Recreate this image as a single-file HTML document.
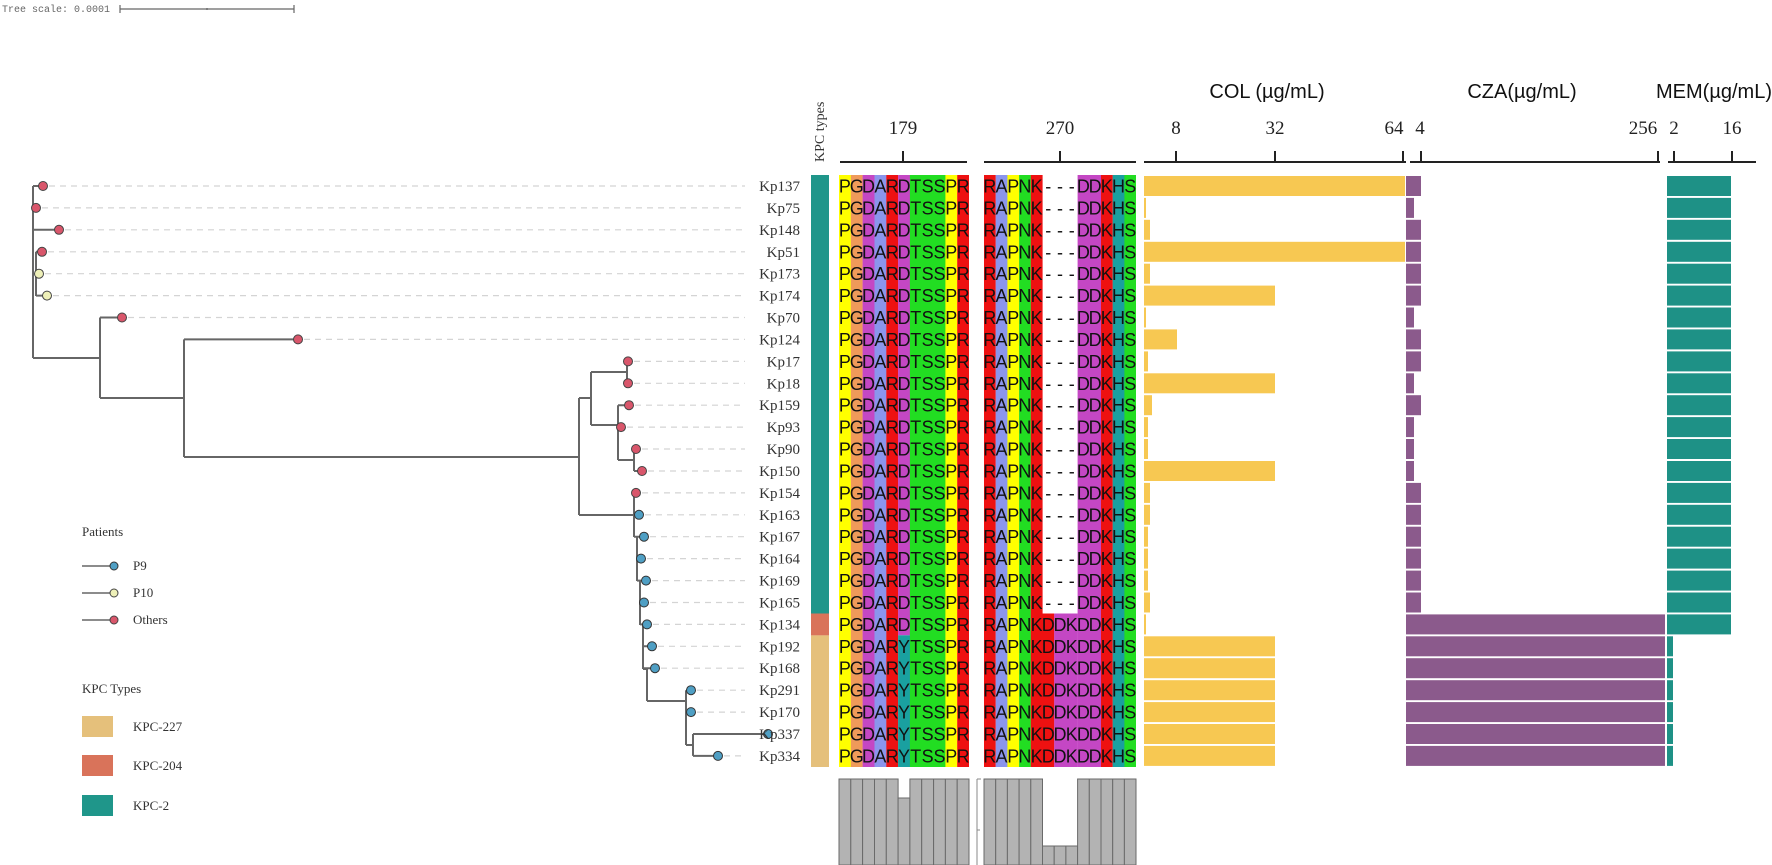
<!DOCTYPE html>
<html><head><meta charset="utf-8"><style>
html,body{margin:0;padding:0;background:#fff}
svg{display:block}
.lb{font-family:"Liberation Serif",serif;font-size:15px;fill:#333;text-anchor:end}
.aa{font-family:"Liberation Sans",sans-serif;font-size:18px;fill:#111;text-anchor:middle}
.tk{font-family:"Liberation Serif",serif;font-size:19px;fill:#222;text-anchor:middle}
.tt{font-family:"Liberation Sans",sans-serif;font-size:20px;fill:#111;text-anchor:middle}
.lg{font-family:"Liberation Serif",serif;font-size:13px;fill:#333}
.ld{stroke:#d4d4d4;stroke-width:1.2;stroke-dasharray:6 5}
.tr{stroke:#666;stroke-width:2;fill:none}
.r{fill:#d9566b;stroke:#444;stroke-width:1}
.b{fill:#4f9fc4;stroke:#333;stroke-width:1}
.y{fill:#eef0b8;stroke:#444;stroke-width:1}
</style></head><body>
<svg width="1772" height="865" viewBox="0 0 1772 865" xmlns="http://www.w3.org/2000/svg">
<text x="2" y="12" style="font-family:'Liberation Mono',monospace;font-size:10px;fill:#666">Tree scale: 0.0001</text>
<g stroke="#666" stroke-width="1.2"><line x1="120" y1="9" x2="294" y2="9"/><line x1="120" y1="5" x2="120" y2="13"/><line x1="294" y1="5" x2="294" y2="13"/><line x1="207" y1="8" x2="207" y2="10"/></g>

<g class="ld">
<line x1="49" y1="186" x2="745" y2="186"/><line x1="42" y1="207.9" x2="745" y2="207.9"/><line x1="65" y1="229.8" x2="745" y2="229.8"/><line x1="48" y1="251.8" x2="745" y2="251.8"/><line x1="45" y1="273.7" x2="745" y2="273.7"/><line x1="53" y1="295.6" x2="745" y2="295.6"/><line x1="128" y1="317.5" x2="745" y2="317.5"/><line x1="304" y1="339.4" x2="745" y2="339.4"/><line x1="634" y1="361.4" x2="745" y2="361.4"/><line x1="634" y1="383.3" x2="745" y2="383.3"/><line x1="635" y1="405.2" x2="745" y2="405.2"/><line x1="627" y1="427.1" x2="745" y2="427.1"/><line x1="642" y1="449" x2="745" y2="449"/><line x1="648" y1="471" x2="745" y2="471"/><line x1="642" y1="492.9" x2="745" y2="492.9"/><line x1="645" y1="514.8" x2="745" y2="514.8"/><line x1="650" y1="536.7" x2="745" y2="536.7"/><line x1="647" y1="558.6" x2="745" y2="558.6"/><line x1="652" y1="580.6" x2="745" y2="580.6"/><line x1="650" y1="602.5" x2="745" y2="602.5"/><line x1="653" y1="624.4" x2="745" y2="624.4"/><line x1="658" y1="646.3" x2="745" y2="646.3"/><line x1="661" y1="668.2" x2="745" y2="668.2"/><line x1="697" y1="690.2" x2="745" y2="690.2"/><line x1="697" y1="712.1" x2="745" y2="712.1"/><line x1="724" y1="755.9" x2="745" y2="755.9"/>
</g>

<path class="tr" d="M33 186V358 M33 186H43 M33 207.9H36 M33 229.8H59 M36 251.8V296 M36 251.8H42 M36 273.7H39 M36 295.6H47
M33 358H100 M100 317.5V398 M100 317.5H122 M100 398H184 M184 339.4V457 M184 339.4H298 M184 457H579
M579 398V515 M579 398H591 M591 372V425 M591 372H627 M627 361.4V383.3 M627 361.4H628 M627 383.3H628
M591 425H618 M618 405.2V460 M618 405.2H629 M618 427.1H621 M618 460H634 M634 449V471 M634 449H636 M634 471H642
M579 515H634 M634 492.9V537 M634 492.9H636 M634 514.8H639 M634 536.7H644 M637 537V581 M637 558.6H641 M637 580.6H646
M640 581V625 M640 602.5H644 M640 624.4H647 M643 625V669 M643 646.3H652 M643 668.2H655 M647 669V701 M643 669H647
M647 701H686 M686 690.2V745 M686 690.2H691 M686 712.1H691 M686 745H693 M693 734V755.9 M693 734H768 M693 755.9H718"/>
<g>
<circle class="r" cx="43" cy="186" r="4.5"/><circle class="r" cx="36" cy="207.9" r="4.5"/><circle class="r" cx="59" cy="229.8" r="4.5"/><circle class="r" cx="42" cy="251.8" r="4.5"/><circle class="y" cx="39" cy="273.7" r="4.5"/><circle class="y" cx="47" cy="295.6" r="4.5"/><circle class="r" cx="122" cy="317.5" r="4.5"/><circle class="r" cx="298" cy="339.4" r="4.5"/><circle class="r" cx="628" cy="361.4" r="4.5"/><circle class="r" cx="628" cy="383.3" r="4.5"/><circle class="r" cx="629" cy="405.2" r="4.5"/><circle class="r" cx="621" cy="427.1" r="4.5"/><circle class="r" cx="636" cy="449" r="4.5"/><circle class="r" cx="642" cy="471" r="4.5"/><circle class="r" cx="636" cy="492.9" r="4.5"/><circle class="b" cx="639" cy="514.8" r="4.5"/><circle class="b" cx="644" cy="536.7" r="4.5"/><circle class="b" cx="641" cy="558.6" r="4.5"/><circle class="b" cx="646" cy="580.6" r="4.5"/><circle class="b" cx="644" cy="602.5" r="4.5"/><circle class="b" cx="647" cy="624.4" r="4.5"/><circle class="b" cx="652" cy="646.3" r="4.5"/><circle class="b" cx="655" cy="668.2" r="4.5"/><circle class="b" cx="691" cy="690.2" r="4.5"/><circle class="b" cx="691" cy="712.1" r="4.5"/><circle class="b" cx="768" cy="734" r="4.5"/><circle class="b" cx="718" cy="755.9" r="4.5"/>
</g>

<text class="lg" x="82" y="536">Patients</text>
<line x1="82" y1="566" x2="112" y2="566" stroke="#666" stroke-width="1.5"/><circle class="b" cx="114" cy="566" r="4"/><text class="lg" x="133" y="570">P9</text>
<line x1="82" y1="593" x2="112" y2="593" stroke="#666" stroke-width="1.5"/><circle class="y" cx="114" cy="593" r="4"/><text class="lg" x="133" y="597">P10</text>
<line x1="82" y1="620" x2="112" y2="620" stroke="#666" stroke-width="1.5"/><circle class="r" cx="114" cy="620" r="4"/><text class="lg" x="133" y="624">Others</text>
<text class="lg" x="82" y="693">KPC Types</text>
<rect x="82" y="716" width="31" height="21" fill="#e5c07b"/><text class="lg" x="133" y="731">KPC-227</text>
<rect x="82" y="755" width="31" height="21" fill="#d9735a"/><text class="lg" x="133" y="770">KPC-204</text>
<rect x="82" y="795" width="31" height="21" fill="#1f968a"/><text class="lg" x="133" y="810">KPC-2</text>

<text transform="translate(824,162) rotate(-90)" style="font-family:'Liberation Serif',serif;font-size:14px;fill:#333">KPC types</text>
<rect x="811" y="175" width="18" height="438.5" fill="#1f968a"/>
<rect x="811" y="613.5" width="18" height="21.9" fill="#d9735a"/>
<rect x="811" y="635.4" width="18" height="131.6" fill="#e5c07b"/>

<g>
<rect x="839" y="175" width="11.9" height="592" fill="#ffff00"/>
<rect x="850.8" y="175" width="11.9" height="592" fill="#ef9a5a"/>
<rect x="862.6" y="175" width="12" height="592" fill="#c447c4"/>
<rect x="874.5" y="175" width="11.9" height="592" fill="#8b95ec"/>
<rect x="886.3" y="175" width="11.9" height="592" fill="#ee1111"/>
<rect x="898.1" y="175" width="11.9" height="460.3" fill="#c447c4"/>
<rect x="898.1" y="635.3" width="11.9" height="131.7" fill="#1aa0a0"/>
<rect x="909.9" y="175" width="35.6" height="592" fill="#22dd22"/>
<rect x="945.4" y="175" width="11.9" height="592" fill="#ffff00"/>
<rect x="957.2" y="175" width="11.8" height="592" fill="#ee1111"/>
</g>
<g>
<rect x="984" y="175" width="11.8" height="592" fill="#ee1111"/>
<rect x="995.7" y="175" width="11.8" height="592" fill="#8b95ec"/>
<rect x="1007.4" y="175" width="11.8" height="592" fill="#ffff00"/>
<rect x="1019.1" y="175" width="11.8" height="592" fill="#22dd22"/>
<rect x="1030.8" y="175" width="11.8" height="592" fill="#ee1111"/>
<rect x="1042.5" y="613.5" width="11.8" height="153.5" fill="#ee1111"/>
<rect x="1054.2" y="613.5" width="23.5" height="153.5" fill="#c447c4"/>
<rect x="1077.6" y="175" width="23.5" height="592" fill="#c447c4"/>
<rect x="1101" y="175" width="11.8" height="592" fill="#ee1111"/>
<rect x="1112.7" y="175" width="11.8" height="592" fill="#1aa0a0"/>
<rect x="1124.4" y="175" width="11.6" height="592" fill="#22dd22"/>
</g>

<g stroke="#222" stroke-width="2">
<line x1="840" y1="162" x2="967" y2="162"/><line x1="903" y1="151" x2="903" y2="162"/>
<line x1="984" y1="162" x2="1136" y2="162"/><line x1="1060" y1="151" x2="1060" y2="162"/>
<line x1="1144" y1="162" x2="1406" y2="162"/><line x1="1176" y1="151" x2="1176" y2="162"/><line x1="1275" y1="151" x2="1275" y2="162"/><line x1="1403" y1="151" x2="1403" y2="162"/>
<line x1="1410" y1="162" x2="1660" y2="162"/><line x1="1421" y1="151" x2="1421" y2="162"/><line x1="1658" y1="151" x2="1658" y2="162"/>
<line x1="1668" y1="162" x2="1756" y2="162"/><line x1="1674" y1="151" x2="1674" y2="162"/><line x1="1732" y1="151" x2="1732" y2="162"/>
</g>
<text class="tk" x="903" y="134">179</text>
<text class="tk" x="1060" y="134">270</text>
<text class="tk" x="1176" y="134">8</text>
<text class="tk" x="1275" y="134">32</text>
<text class="tk" x="1394" y="134">64</text>
<text class="tk" x="1420" y="134">4</text>
<text class="tk" x="1643" y="134">256</text>
<text class="tk" x="1674" y="134">2</text>
<text class="tk" x="1732" y="134">16</text>
<text class="tt" x="1267" y="98">COL (µg/mL)</text>
<text class="tt" x="1522" y="98">CZA(µg/mL)</text>
<text class="tt" x="1714" y="98">MEM(µg/mL)</text>

<g id="rows">
<g transform="translate(0,186)"><text class="lb" x="800" y="5">Kp137</text><text class="aa" x="844.9 856.7 868.5 880.4 892.2 904 915.8 927.6 939.5 951.3 963.1" y="6.5">PGDARDTSSPR</text><text class="aa" x="989.8 1001.5 1013.2 1024.9 1036.6 1048.3 1060 1071.7 1083.4 1095.1 1106.8 1118.5 1130.2" y="6.5">RAPNK---DDKHS</text><rect x="1144" y="-10" width="261" height="20" fill="#f7c852"/><rect x="1406" y="-10" width="15" height="20" fill="#8b5a8c"/><rect x="1667" y="-10" width="64" height="20" fill="#1e9186"/></g>
<g transform="translate(0,207.9)"><text class="lb" x="800" y="5">Kp75</text><text class="aa" x="844.9 856.7 868.5 880.4 892.2 904 915.8 927.6 939.5 951.3 963.1" y="6.5">PGDARDTSSPR</text><text class="aa" x="989.8 1001.5 1013.2 1024.9 1036.6 1048.3 1060 1071.7 1083.4 1095.1 1106.8 1118.5 1130.2" y="6.5">RAPNK---DDKHS</text><rect x="1144" y="-10" width="2" height="20" fill="#f7c852"/><rect x="1406" y="-10" width="8" height="20" fill="#8b5a8c"/><rect x="1667" y="-10" width="64" height="20" fill="#1e9186"/></g>
<g transform="translate(0,229.8)"><text class="lb" x="800" y="5">Kp148</text><text class="aa" x="844.9 856.7 868.5 880.4 892.2 904 915.8 927.6 939.5 951.3 963.1" y="6.5">PGDARDTSSPR</text><text class="aa" x="989.8 1001.5 1013.2 1024.9 1036.6 1048.3 1060 1071.7 1083.4 1095.1 1106.8 1118.5 1130.2" y="6.5">RAPNK---DDKHS</text><rect x="1144" y="-10" width="6" height="20" fill="#f7c852"/><rect x="1406" y="-10" width="15" height="20" fill="#8b5a8c"/><rect x="1667" y="-10" width="64" height="20" fill="#1e9186"/></g>
<g transform="translate(0,251.8)"><text class="lb" x="800" y="5">Kp51</text><text class="aa" x="844.9 856.7 868.5 880.4 892.2 904 915.8 927.6 939.5 951.3 963.1" y="6.5">PGDARDTSSPR</text><text class="aa" x="989.8 1001.5 1013.2 1024.9 1036.6 1048.3 1060 1071.7 1083.4 1095.1 1106.8 1118.5 1130.2" y="6.5">RAPNK---DDKHS</text><rect x="1144" y="-10" width="261" height="20" fill="#f7c852"/><rect x="1406" y="-10" width="15" height="20" fill="#8b5a8c"/><rect x="1667" y="-10" width="64" height="20" fill="#1e9186"/></g>
<g transform="translate(0,273.7)"><text class="lb" x="800" y="5">Kp173</text><text class="aa" x="844.9 856.7 868.5 880.4 892.2 904 915.8 927.6 939.5 951.3 963.1" y="6.5">PGDARDTSSPR</text><text class="aa" x="989.8 1001.5 1013.2 1024.9 1036.6 1048.3 1060 1071.7 1083.4 1095.1 1106.8 1118.5 1130.2" y="6.5">RAPNK---DDKHS</text><rect x="1144" y="-10" width="6" height="20" fill="#f7c852"/><rect x="1406" y="-10" width="15" height="20" fill="#8b5a8c"/><rect x="1667" y="-10" width="64" height="20" fill="#1e9186"/></g>
<g transform="translate(0,295.6)"><text class="lb" x="800" y="5">Kp174</text><text class="aa" x="844.9 856.7 868.5 880.4 892.2 904 915.8 927.6 939.5 951.3 963.1" y="6.5">PGDARDTSSPR</text><text class="aa" x="989.8 1001.5 1013.2 1024.9 1036.6 1048.3 1060 1071.7 1083.4 1095.1 1106.8 1118.5 1130.2" y="6.5">RAPNK---DDKHS</text><rect x="1144" y="-10" width="131" height="20" fill="#f7c852"/><rect x="1406" y="-10" width="15" height="20" fill="#8b5a8c"/><rect x="1667" y="-10" width="64" height="20" fill="#1e9186"/></g>
<g transform="translate(0,317.5)"><text class="lb" x="800" y="5">Kp70</text><text class="aa" x="844.9 856.7 868.5 880.4 892.2 904 915.8 927.6 939.5 951.3 963.1" y="6.5">PGDARDTSSPR</text><text class="aa" x="989.8 1001.5 1013.2 1024.9 1036.6 1048.3 1060 1071.7 1083.4 1095.1 1106.8 1118.5 1130.2" y="6.5">RAPNK---DDKHS</text><rect x="1144" y="-10" width="2" height="20" fill="#f7c852"/><rect x="1406" y="-10" width="8" height="20" fill="#8b5a8c"/><rect x="1667" y="-10" width="64" height="20" fill="#1e9186"/></g>
<g transform="translate(0,339.4)"><text class="lb" x="800" y="5">Kp124</text><text class="aa" x="844.9 856.7 868.5 880.4 892.2 904 915.8 927.6 939.5 951.3 963.1" y="6.5">PGDARDTSSPR</text><text class="aa" x="989.8 1001.5 1013.2 1024.9 1036.6 1048.3 1060 1071.7 1083.4 1095.1 1106.8 1118.5 1130.2" y="6.5">RAPNK---DDKHS</text><rect x="1144" y="-10" width="33" height="20" fill="#f7c852"/><rect x="1406" y="-10" width="15" height="20" fill="#8b5a8c"/><rect x="1667" y="-10" width="64" height="20" fill="#1e9186"/></g>
<g transform="translate(0,361.4)"><text class="lb" x="800" y="5">Kp17</text><text class="aa" x="844.9 856.7 868.5 880.4 892.2 904 915.8 927.6 939.5 951.3 963.1" y="6.5">PGDARDTSSPR</text><text class="aa" x="989.8 1001.5 1013.2 1024.9 1036.6 1048.3 1060 1071.7 1083.4 1095.1 1106.8 1118.5 1130.2" y="6.5">RAPNK---DDKHS</text><rect x="1144" y="-10" width="4" height="20" fill="#f7c852"/><rect x="1406" y="-10" width="15" height="20" fill="#8b5a8c"/><rect x="1667" y="-10" width="64" height="20" fill="#1e9186"/></g>
<g transform="translate(0,383.3)"><text class="lb" x="800" y="5">Kp18</text><text class="aa" x="844.9 856.7 868.5 880.4 892.2 904 915.8 927.6 939.5 951.3 963.1" y="6.5">PGDARDTSSPR</text><text class="aa" x="989.8 1001.5 1013.2 1024.9 1036.6 1048.3 1060 1071.7 1083.4 1095.1 1106.8 1118.5 1130.2" y="6.5">RAPNK---DDKHS</text><rect x="1144" y="-10" width="131" height="20" fill="#f7c852"/><rect x="1406" y="-10" width="8" height="20" fill="#8b5a8c"/><rect x="1667" y="-10" width="64" height="20" fill="#1e9186"/></g>
<g transform="translate(0,405.2)"><text class="lb" x="800" y="5">Kp159</text><text class="aa" x="844.9 856.7 868.5 880.4 892.2 904 915.8 927.6 939.5 951.3 963.1" y="6.5">PGDARDTSSPR</text><text class="aa" x="989.8 1001.5 1013.2 1024.9 1036.6 1048.3 1060 1071.7 1083.4 1095.1 1106.8 1118.5 1130.2" y="6.5">RAPNK---DDKHS</text><rect x="1144" y="-10" width="8" height="20" fill="#f7c852"/><rect x="1406" y="-10" width="15" height="20" fill="#8b5a8c"/><rect x="1667" y="-10" width="64" height="20" fill="#1e9186"/></g>
<g transform="translate(0,427.1)"><text class="lb" x="800" y="5">Kp93</text><text class="aa" x="844.9 856.7 868.5 880.4 892.2 904 915.8 927.6 939.5 951.3 963.1" y="6.5">PGDARDTSSPR</text><text class="aa" x="989.8 1001.5 1013.2 1024.9 1036.6 1048.3 1060 1071.7 1083.4 1095.1 1106.8 1118.5 1130.2" y="6.5">RAPNK---DDKHS</text><rect x="1144" y="-10" width="4" height="20" fill="#f7c852"/><rect x="1406" y="-10" width="8" height="20" fill="#8b5a8c"/><rect x="1667" y="-10" width="64" height="20" fill="#1e9186"/></g>
<g transform="translate(0,449)"><text class="lb" x="800" y="5">Kp90</text><text class="aa" x="844.9 856.7 868.5 880.4 892.2 904 915.8 927.6 939.5 951.3 963.1" y="6.5">PGDARDTSSPR</text><text class="aa" x="989.8 1001.5 1013.2 1024.9 1036.6 1048.3 1060 1071.7 1083.4 1095.1 1106.8 1118.5 1130.2" y="6.5">RAPNK---DDKHS</text><rect x="1144" y="-10" width="4" height="20" fill="#f7c852"/><rect x="1406" y="-10" width="8" height="20" fill="#8b5a8c"/><rect x="1667" y="-10" width="64" height="20" fill="#1e9186"/></g>
<g transform="translate(0,471)"><text class="lb" x="800" y="5">Kp150</text><text class="aa" x="844.9 856.7 868.5 880.4 892.2 904 915.8 927.6 939.5 951.3 963.1" y="6.5">PGDARDTSSPR</text><text class="aa" x="989.8 1001.5 1013.2 1024.9 1036.6 1048.3 1060 1071.7 1083.4 1095.1 1106.8 1118.5 1130.2" y="6.5">RAPNK---DDKHS</text><rect x="1144" y="-10" width="131" height="20" fill="#f7c852"/><rect x="1406" y="-10" width="8" height="20" fill="#8b5a8c"/><rect x="1667" y="-10" width="64" height="20" fill="#1e9186"/></g>
<g transform="translate(0,492.9)"><text class="lb" x="800" y="5">Kp154</text><text class="aa" x="844.9 856.7 868.5 880.4 892.2 904 915.8 927.6 939.5 951.3 963.1" y="6.5">PGDARDTSSPR</text><text class="aa" x="989.8 1001.5 1013.2 1024.9 1036.6 1048.3 1060 1071.7 1083.4 1095.1 1106.8 1118.5 1130.2" y="6.5">RAPNK---DDKHS</text><rect x="1144" y="-10" width="6" height="20" fill="#f7c852"/><rect x="1406" y="-10" width="15" height="20" fill="#8b5a8c"/><rect x="1667" y="-10" width="64" height="20" fill="#1e9186"/></g>
<g transform="translate(0,514.8)"><text class="lb" x="800" y="5">Kp163</text><text class="aa" x="844.9 856.7 868.5 880.4 892.2 904 915.8 927.6 939.5 951.3 963.1" y="6.5">PGDARDTSSPR</text><text class="aa" x="989.8 1001.5 1013.2 1024.9 1036.6 1048.3 1060 1071.7 1083.4 1095.1 1106.8 1118.5 1130.2" y="6.5">RAPNK---DDKHS</text><rect x="1144" y="-10" width="6" height="20" fill="#f7c852"/><rect x="1406" y="-10" width="15" height="20" fill="#8b5a8c"/><rect x="1667" y="-10" width="64" height="20" fill="#1e9186"/></g>
<g transform="translate(0,536.7)"><text class="lb" x="800" y="5">Kp167</text><text class="aa" x="844.9 856.7 868.5 880.4 892.2 904 915.8 927.6 939.5 951.3 963.1" y="6.5">PGDARDTSSPR</text><text class="aa" x="989.8 1001.5 1013.2 1024.9 1036.6 1048.3 1060 1071.7 1083.4 1095.1 1106.8 1118.5 1130.2" y="6.5">RAPNK---DDKHS</text><rect x="1144" y="-10" width="4" height="20" fill="#f7c852"/><rect x="1406" y="-10" width="15" height="20" fill="#8b5a8c"/><rect x="1667" y="-10" width="64" height="20" fill="#1e9186"/></g>
<g transform="translate(0,558.6)"><text class="lb" x="800" y="5">Kp164</text><text class="aa" x="844.9 856.7 868.5 880.4 892.2 904 915.8 927.6 939.5 951.3 963.1" y="6.5">PGDARDTSSPR</text><text class="aa" x="989.8 1001.5 1013.2 1024.9 1036.6 1048.3 1060 1071.7 1083.4 1095.1 1106.8 1118.5 1130.2" y="6.5">RAPNK---DDKHS</text><rect x="1144" y="-10" width="4" height="20" fill="#f7c852"/><rect x="1406" y="-10" width="15" height="20" fill="#8b5a8c"/><rect x="1667" y="-10" width="64" height="20" fill="#1e9186"/></g>
<g transform="translate(0,580.6)"><text class="lb" x="800" y="5">Kp169</text><text class="aa" x="844.9 856.7 868.5 880.4 892.2 904 915.8 927.6 939.5 951.3 963.1" y="6.5">PGDARDTSSPR</text><text class="aa" x="989.8 1001.5 1013.2 1024.9 1036.6 1048.3 1060 1071.7 1083.4 1095.1 1106.8 1118.5 1130.2" y="6.5">RAPNK---DDKHS</text><rect x="1144" y="-10" width="4" height="20" fill="#f7c852"/><rect x="1406" y="-10" width="15" height="20" fill="#8b5a8c"/><rect x="1667" y="-10" width="64" height="20" fill="#1e9186"/></g>
<g transform="translate(0,602.5)"><text class="lb" x="800" y="5">Kp165</text><text class="aa" x="844.9 856.7 868.5 880.4 892.2 904 915.8 927.6 939.5 951.3 963.1" y="6.5">PGDARDTSSPR</text><text class="aa" x="989.8 1001.5 1013.2 1024.9 1036.6 1048.3 1060 1071.7 1083.4 1095.1 1106.8 1118.5 1130.2" y="6.5">RAPNK---DDKHS</text><rect x="1144" y="-10" width="6" height="20" fill="#f7c852"/><rect x="1406" y="-10" width="15" height="20" fill="#8b5a8c"/><rect x="1667" y="-10" width="64" height="20" fill="#1e9186"/></g>
<g transform="translate(0,624.4)"><text class="lb" x="800" y="5">Kp134</text><text class="aa" x="844.9 856.7 868.5 880.4 892.2 904 915.8 927.6 939.5 951.3 963.1" y="6.5">PGDARDTSSPR</text><text class="aa" x="989.8 1001.5 1013.2 1024.9 1036.6 1048.3 1060 1071.7 1083.4 1095.1 1106.8 1118.5 1130.2" y="6.5">RAPNKDDKDDKHS</text><rect x="1144" y="-10" width="2" height="20" fill="#f7c852"/><rect x="1406" y="-10" width="259" height="20" fill="#8b5a8c"/><rect x="1667" y="-10" width="64" height="20" fill="#1e9186"/></g>
<g transform="translate(0,646.3)"><text class="lb" x="800" y="5">Kp192</text><text class="aa" x="844.9 856.7 868.5 880.4 892.2 904 915.8 927.6 939.5 951.3 963.1" y="6.5">PGDARYTSSPR</text><text class="aa" x="989.8 1001.5 1013.2 1024.9 1036.6 1048.3 1060 1071.7 1083.4 1095.1 1106.8 1118.5 1130.2" y="6.5">RAPNKDDKDDKHS</text><rect x="1144" y="-10" width="131" height="20" fill="#f7c852"/><rect x="1406" y="-10" width="259" height="20" fill="#8b5a8c"/><rect x="1667" y="-10" width="6" height="20" fill="#1e9186"/></g>
<g transform="translate(0,668.2)"><text class="lb" x="800" y="5">Kp168</text><text class="aa" x="844.9 856.7 868.5 880.4 892.2 904 915.8 927.6 939.5 951.3 963.1" y="6.5">PGDARYTSSPR</text><text class="aa" x="989.8 1001.5 1013.2 1024.9 1036.6 1048.3 1060 1071.7 1083.4 1095.1 1106.8 1118.5 1130.2" y="6.5">RAPNKDDKDDKHS</text><rect x="1144" y="-10" width="131" height="20" fill="#f7c852"/><rect x="1406" y="-10" width="259" height="20" fill="#8b5a8c"/><rect x="1667" y="-10" width="6" height="20" fill="#1e9186"/></g>
<g transform="translate(0,690.2)"><text class="lb" x="800" y="5">Kp291</text><text class="aa" x="844.9 856.7 868.5 880.4 892.2 904 915.8 927.6 939.5 951.3 963.1" y="6.5">PGDARYTSSPR</text><text class="aa" x="989.8 1001.5 1013.2 1024.9 1036.6 1048.3 1060 1071.7 1083.4 1095.1 1106.8 1118.5 1130.2" y="6.5">RAPNKDDKDDKHS</text><rect x="1144" y="-10" width="131" height="20" fill="#f7c852"/><rect x="1406" y="-10" width="259" height="20" fill="#8b5a8c"/><rect x="1667" y="-10" width="6" height="20" fill="#1e9186"/></g>
<g transform="translate(0,712.1)"><text class="lb" x="800" y="5">Kp170</text><text class="aa" x="844.9 856.7 868.5 880.4 892.2 904 915.8 927.6 939.5 951.3 963.1" y="6.5">PGDARYTSSPR</text><text class="aa" x="989.8 1001.5 1013.2 1024.9 1036.6 1048.3 1060 1071.7 1083.4 1095.1 1106.8 1118.5 1130.2" y="6.5">RAPNKDDKDDKHS</text><rect x="1144" y="-10" width="131" height="20" fill="#f7c852"/><rect x="1406" y="-10" width="259" height="20" fill="#8b5a8c"/><rect x="1667" y="-10" width="6" height="20" fill="#1e9186"/></g>
<g transform="translate(0,734)"><text class="lb" x="800" y="5">Kp337</text><text class="aa" x="844.9 856.7 868.5 880.4 892.2 904 915.8 927.6 939.5 951.3 963.1" y="6.5">PGDARYTSSPR</text><text class="aa" x="989.8 1001.5 1013.2 1024.9 1036.6 1048.3 1060 1071.7 1083.4 1095.1 1106.8 1118.5 1130.2" y="6.5">RAPNKDDKDDKHS</text><rect x="1144" y="-10" width="131" height="20" fill="#f7c852"/><rect x="1406" y="-10" width="259" height="20" fill="#8b5a8c"/><rect x="1667" y="-10" width="6" height="20" fill="#1e9186"/></g>
<g transform="translate(0,755.9)"><text class="lb" x="800" y="5">Kp334</text><text class="aa" x="844.9 856.7 868.5 880.4 892.2 904 915.8 927.6 939.5 951.3 963.1" y="6.5">PGDARYTSSPR</text><text class="aa" x="989.8 1001.5 1013.2 1024.9 1036.6 1048.3 1060 1071.7 1083.4 1095.1 1106.8 1118.5 1130.2" y="6.5">RAPNKDDKDDKHS</text><rect x="1144" y="-10" width="131" height="20" fill="#f7c852"/><rect x="1406" y="-10" width="259" height="20" fill="#8b5a8c"/><rect x="1667" y="-10" width="6" height="20" fill="#1e9186"/></g>
</g>

<g fill="#b3b3b3" stroke="#6a6a6a" stroke-width="1">
<rect x="839" y="779" width="11.8" height="86"/><rect x="850.8" y="779" width="11.8" height="86"/><rect x="862.6" y="779" width="11.9" height="86"/><rect x="874.5" y="779" width="11.8" height="86"/><rect x="886.3" y="779" width="11.8" height="86"/><rect x="898.1" y="798" width="11.8" height="67"/><rect x="909.9" y="779" width="11.8" height="86"/><rect x="921.7" y="779" width="11.9" height="86"/><rect x="933.6" y="779" width="11.8" height="86"/><rect x="945.4" y="779" width="11.8" height="86"/><rect x="957.2" y="779" width="11.8" height="86"/>
<rect x="984" y="779" width="11.7" height="86"/><rect x="995.7" y="779" width="11.7" height="86"/><rect x="1007.4" y="779" width="11.7" height="86"/><rect x="1019.1" y="779" width="11.7" height="86"/><rect x="1030.8" y="779" width="11.7" height="86"/><rect x="1042.5" y="846" width="11.7" height="19"/><rect x="1054.2" y="846" width="11.7" height="19"/><rect x="1065.9" y="846" width="11.7" height="19"/><rect x="1077.6" y="779" width="11.7" height="86"/><rect x="1089.3" y="779" width="11.7" height="86"/><rect x="1101" y="779" width="11.7" height="86"/><rect x="1112.7" y="779" width="11.7" height="86"/><rect x="1124.4" y="779" width="11.6" height="86"/>
</g>
<g stroke="#888" stroke-width="1"><line x1="977" y1="779" x2="977" y2="865"/><line x1="977" y1="779" x2="981" y2="779"/><line x1="977" y1="830" x2="980" y2="830"/></g>
</svg>
</body></html>
